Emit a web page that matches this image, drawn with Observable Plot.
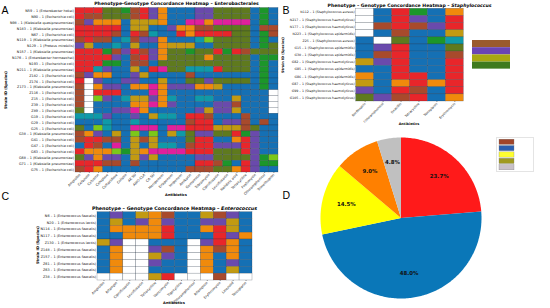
<!DOCTYPE html>
<html><head><meta charset="utf-8">
<script src="https://cdn.jsdelivr.net/npm/d3@7"></script>
<script src="https://cdn.jsdelivr.net/npm/@observablehq/plot@0.6"></script>
<style>
html,body{margin:0;padding:0;background:#fff}
#page{position:relative;width:550px;height:308px;overflow:hidden;font-family:"DejaVu Sans",sans-serif;color:#000}
#page>*{position:absolute}
.t{white-space:nowrap;font-weight:bold;transform:translateX(-50%);line-height:1}
.p{font-family:"Liberation Sans",sans-serif;font-size:10.5px;line-height:1}
</style></head><body><div id="page"></div>
<script>
// cell codes as seen in the picture
const codes  = ["R","B","U","P","O","Y","G","L","W","M","T","C"];
const shades = ["#e8262a","#a84a2c","#1570b4","#6a4aac","#f08a0c","#c29a12","#1c962a","#5f7a1e","#ffffff","#e0209c","#0f9aa8","#7cc81a"];

const aStrains = ["N59 – 1 (Enterobacter hokei)","N90 – 1 (Escherichia coli)","N98 – 1 (Klebsiella quasipneumoniae)","N183 – 1 (Klebsiella pneumoniae)","N67 – 1 (Escherichia coli)","N119 – 1 (Klebsiella pneumoniae)","N129 – 1 (Proteus mirabilis)","N157 – 1 (Klebsiella pneumoniae)","N176 – 1 (Enterobacter hormaechei)","N193 – 1 (Escherichia coli)","N211 – 1 (Klebsiella pneumoniae)","Z182 – 1 (Escherichia coli)","Z174 – 1 (Escherichia coli)","Z173 – 1 (Klebsiella pneumoniae)","Z116 – 1 (Escherichia coli)","Z15 – 1 (Escherichia coli)","Z39 – 1 (Escherichia coli)","Z89 – 1 (Escherichia coli)","G19 – 1 (Escherichia coli)","G29 – 1 (Escherichia coli)","G25 – 1 (Escherichia coli)","G38 – 1 (Klebsiella pneumoniae)","G41 – 1 (Escherichia coli)","G47 – 1 (Escherichia coli)","G63 – 1 (Escherichia coli)","G68 – 1 (Klebsiella pneumoniae)","G71 – 1 (Klebsiella pneumoniae)","G75 – 1 (Escherichia coli)"];
const aDrugs = ["Ampicillin","Cefazolin","Cefoxitin","Cefepime","Ceftazidime","Colistin","AK-SU","AMO-CLA","CA-SU","Meropenem","Ertapenem","Imipenem","Amikacin","Gentamicin","Tobramycin","Ciprofloxacin","Levofloxacin","Nalidixic acid","Tetracycline","Fosfomycin","Chloramphenicol","Trimethoprim"];
const aCells = [
"RRRLLGBRPOUUUPPLLLLUGU","RBBLLLBRPOUUUPPLLLLUGU","BPOOOUYYYOUUMMOMMMMUGU","RRRRRUYYUUPOOBBLLLLUBB",
"RRRRBURBTUURORRRRLLUGB","BRBBUTBPPOUUUTCLLLLUGU","PYUUTUYUUOYYYUULLLLUGL","RRRGBPRBPOLLGLLRGRBLLL",
"RRRRPUBRPOLLLLOLLLLUGG","RRRGGUBBULLLLLLLLLLUGU","RRTPUUYURMLLTTTRLLLUGU","BPOOUUPYUUUUBUUUUUUUGU",
"RWPUUPPUUYUULLPLLLLUGU","BWOPPUOOMOPPPOOYUUUUGU","BWRRRUUUMOUUUUUUUUUUUW","BWCPUTYYPOTUUTTUUYUUUW",
"BWUUUUOOMOPUUUUPPBUUUW","LWUUPPMOUUUUUPYPPYUUUW","TTTPUUPUYTTURRBUUUBUUU","UUUTUUTUUUUUBRRUPPBUBU",
"LUCTUUMMMUMMRRRYYYBLUU","BOPUYUCUCUYTLPPLLRGPUU","BRRBBUYBYUUULRRUUORPUU","URBUMUYUYTTUBRRPPPRPUU",
"ROOOCGYOMMMMRRRLLLRPUU","LPOPPUYPYUUUUPPLLLLPGC","RRRBBUBUUUUUURRBGURPGG","BROUUUUUUUUUBBBLLORPUU"];

const bStrains = ["N112 – 1 (Staphylococcus aureus)","N217 – 1 (Staphylococcus haemolyticus)","N177 – 1 (Staphylococcus haemolyticus)","N223 – 1 (Staphylococcus epidermidis)","Z25 – 1 (Staphylococcus aureus)","G15 – 1 (Staphylococcus epidermidis)","G30 – 1 (Staphylococcus epidermidis)","G82 – 1 (Staphylococcus haemolyticus)","G85 – 1 (Staphylococcus epidermidis)","G86 – 1 (Staphylococcus epidermidis)","G87 – 1 (Staphylococcus haemolyticus)","G99 – 1 (Staphylococcus haemolyticus)","G105 – 1 (Staphylococcus haemolyticus)"];
const bDrugs = ["Norfloxacin","Chloramphenicol","Oxacillin","Tetracycline","Teicoplanin","Erythromycin"];
const bCells = ["WURGUO","WURPUR","WBRBPR","WUBUUY","UWLUGT","UPRUUL","UBRUUB","YPRUUR","UURUUR","OURRUR","YUOROR","PURBUR","LPBRUO"];

const cStrains = ["N6 – 1 (Enterococcus faecalis)","N20 – 1 (Enterococcus lactis)","N114 – 1 (Enterococcus faecalis)","N117 – 1 (Enterococcus faecalis)","Z130 – 1 (Enterococcus lactis)","Z148 – 1 (Enterococcus faecalis)","Z157 – 1 (Enterococcus faecalis)","Z61 – 1 (Enterococcus faecalis)","Z63 – 1 (Enterococcus faecalis)","Z38 – 1 (Enterococcus faecalis)"];
const cDrugs = ["Ampicillin","Rifampin","Ciprofloxacin","Levofloxacin","Tetracycline","Vancomycin","Tigecycline","Chloramphenicol","Rifampicin","Erythromycin","Linezolid","Teicoplanin"];
const cCells = ["UPUYOBUUYBPU","UYUPOPUUPPYU","UOOOORUUORYU","UUOOORUUURPO","YPWWUUUWPROU","UOWWPBUWOBOU","UOWWYPUWOUOU","UOWWPUUWOUPU","UOWWUUUWOUYU","WWWWYRWWWBWW"];

const pieNames  = ["1: P+G+","2: P-G-","3: P+G-","4: P-G+","5: Others"];
const pieShares = [23.7,48.0,14.5,9.0,4.8];
const pieFills  = ["#ff1a1a","#0a77b8","#ffff00","#ff8000","#c0c0c0"];
const pieKeys   = ["#a0452a","#2a5fb0","#ffff30","#a09a20","#c8c0c8"];

const bKeyNames = ["1. Phenotype and Genotype present","2. Phenotype and Genotype absent","3. Phenotype present, Genotype absent","4. Phenotype absent, Genotype present","5. Others"];
const bKeyFills = ["#9a5a2c","#6a44b4","#a8a812","#3f7a1e","#ffffff"];

const page = document.getElementById("page");
function put(node,left,top){node.style.position="absolute";node.style.left=left+"px";node.style.top=top+"px";page.appendChild(node);}
function html(tag,cls,text,left,top,size){const e=document.createElement(tag);e.className=cls;e.innerHTML=text;e.style.fontSize=size+"px";put(e,left,top);return e;}

function heat(o){
  const data=o.cells.flatMap((row,i)=>[...row].map((k,j)=>({s:o.strains[i],d:o.drugs[j],k})));
  const plot=Plot.plot({
    width:o.w,height:o.h,marginLeft:o.ml,marginTop:o.mt,marginRight:o.mr,marginBottom:o.mb,
    style:{background:"transparent",overflow:"visible",fontFamily:"'DejaVu Sans',sans-serif"},
    x:{type:"band",domain:o.drugs,padding:0,round:false},
    y:{type:"band",domain:o.strains,padding:0,round:false},
    color:{type:"ordinal",domain:codes,range:shades},
    marks:[
      Plot.cell(data,{x:"d",y:"s",fill:"k",stroke:"#1c2a3a",strokeWidth:.4,strokeOpacity:.55}),
      Plot.axisY({fontSize:o.fs,tickSize:0,tickPadding:1.5,label:null,fill:"#111"}),
      Plot.axisX({fontSize:o.fs,tickSize:1,tickPadding:.8,tickRotate:-45,label:null,fill:"#222",strokeWidth:.4})
    ]});
  put(plot,o.x,o.y);
  const xl=html("div","t","Antibiotics",o.xlx,o.xly,o.lfs);
  const yl=html("div","t","Strain ID (Species)",o.ylx,o.yly,o.lfs);
  yl.style.transform="translate(-50%,-50%) rotate(-90deg)";
  xl.style.transform="translate(-50%,-50%)";
}

heat({strains:aStrains,drugs:aDrugs,cells:aCells,x:0,y:0,w:280,h:200,ml:75,mt:7.5,mr:2,mb:28,fs:3.4,lfs:3.6,xlx:176,xly:195.5,ylx:7,yly:90});
heat({strains:bStrains,drugs:bDrugs,cells:bCells,x:270,y:0,w:200,h:130,ml:85.7,mt:8.3,mr:6.7,mb:29,fs:3.2,lfs:3.4,xlx:409,xly:124.5,ylx:284,yly:55});
heat({strains:cStrains,drugs:cDrugs,cells:cCells,x:0,y:200,w:260,h:108,ml:97,mt:11.7,mr:8,mb:28,fs:3.4,lfs:3.6,xlx:174,xly:303.5,ylx:39,yly:245});

html("div","t","Phenotype-Genotype Concordance Heatmap – Enterobacterales",176.5,1.5,4.6);
html("div","t","Phenotype – Genotype Concordance Heatmap – <i>Staphylococcus</i>",409.5,3.6,4.6);
html("div","t","Phenotype – Genotype Concordance Heatmap – <i>Enterococcus</i>",174.5,206.5,4.8);
html("div","p","A",1.5,5,0);html;
[["A",1.5,5],["B",282.5,5],["C",1.5,191],["D",282.5,190]].forEach(([t,x,y])=>html("div","p",t,x,y,10.5));

// legend next to panel B, drawn by Plot
const bKey=bKeyNames.map((name,i)=>({name,fill:bKeyFills[i]}));
put(Plot.plot({
  width:90,height:36,margin:0,
  style:{background:"transparent",overflow:"visible",fontFamily:"'DejaVu Sans',sans-serif"},
  x:{axis:null,domain:[0,90],range:[0,90]},
  y:{type:"band",axis:null,domain:bKeyNames,padding:0,round:false},
  marks:[
    Plot.cell(bKey,{x:()=>0,y:"name",fill:"fill"}),
    Plot.text(bKey,{x:()=>11,y:"name",text:"name",textAnchor:"start",fontSize:3.7,fill:"#111"})
  ]}),467,39.5);

// pie: wedge outlines follow the shares, on x/y scales in unit-radius coordinates
let acc=0;
const wedges=pieShares.map((v,i)=>{const w={name:pieNames[i],v,a0:acc/100*2*Math.PI,a1:(acc+v)/100*2*Math.PI};acc+=v;return w;});
const outline=wedges.flatMap(w=>{
  const n=Math.max(2,Math.ceil((w.a1-w.a0)*60)),pts=[{name:w.name,px:0,py:0}];
  for(let k=0;k<=n;k++){const a=w.a0+(w.a1-w.a0)*k/n;pts.push({name:w.name,px:Math.sin(a),py:Math.cos(a)});}
  pts.push({name:w.name,px:0,py:0});
  return pts;
});
const pct=wedges.map(w=>{const a=(w.a0+w.a1)/2;return {px:.7*Math.sin(a),py:.7*Math.cos(a),t:w.v.toFixed(1)+"%"};});
put(Plot.plot({
  width:161,height:161,margin:0,
  style:{background:"transparent",overflow:"visible",fontFamily:"'DejaVu Sans',sans-serif"},
  x:{axis:null,domain:[-1,1]},
  y:{axis:null,domain:[-1,1]},
  color:{type:"ordinal",domain:pieNames,range:pieFills},
  marks:[
    Plot.line(outline,{x:"px",y:"py",z:"name",fill:"name",stroke:"none"}),
    Plot.text(pct,{x:"px",y:"py",text:"t",fontSize:5.4,fontWeight:"bold",fill:"#111"})
  ]}),320.2,137.2);

// pie legend
const pKey=pieNames.map((name,i)=>({name,fill:pieKeys[i]}));
put(Plot.plot({
  width:36,height:33,margin:0,
  style:{background:"#fff",overflow:"visible",fontFamily:"'DejaVu Sans',sans-serif",border:".4px solid #e4e4e4"},
  x:{axis:null,domain:[0,36],range:[0,36]},
  y:{type:"band",axis:null,domain:pieNames,padding:.18,round:false},
  marks:[
    Plot.cell(pKey,{x:()=>0,y:"name",fill:"fill",stroke:"#777",strokeWidth:.3}),
    Plot.text(pKey,{x:()=>14.7,y:"name",text:"name",textAnchor:"start",fontSize:3.7,fill:"#222"})
  ]}),496,137);
</script></body></html>
